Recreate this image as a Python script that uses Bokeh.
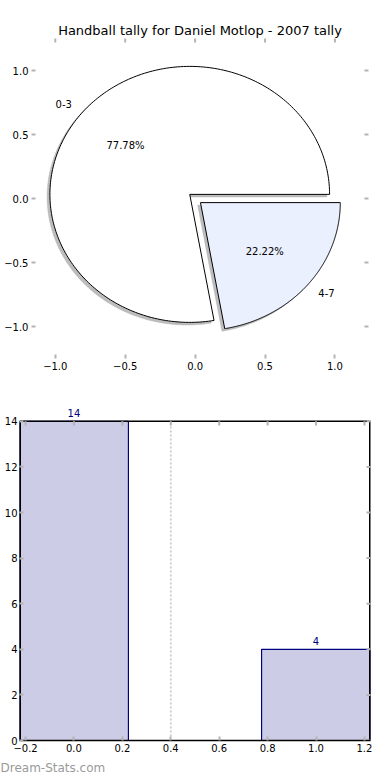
import numpy as np
from bokeh.plotting import figure
from bokeh.models import (Range1d, LinearAxis, FixedTicker, CustomJSTickFormatter,
                          ColumnDataSource, LabelSet, Title)
from bokeh.core.properties import value
from bokeh.embed import file_html
from bokeh.resources import INLINE

# ---------------- data ----------------
pie_title = "Handball tally for Daniel Motlop - 2007 tally"
pie_labels = ["0-3", "4-7"]
pie_values = [14, 4]
pie_colors = ["#FFFFFF", "#EAF0FD"]
pie_explode = [0.05, 0.05]
pie_ticks = [-1.0, -0.5, 0.0, 0.5, 1.0]
pie_xlim = (-1.17, 1.24)
pie_ylim = (-1.25, 1.25)

bar_x = [0, 1]
bar_values = [14, 4]
bar_width = 0.45
bar_xticks = [-0.2, 0.0, 0.2, 0.4, 0.6, 0.8, 1.0, 1.2]
bar_yticks = [0, 2, 4, 6, 8, 10, 12, 14]
bar_headroom = 1.0
divider_x = 0.4
watermark = "Dream-Stats.com"

FONT = "DejaVu Sans"
TICK_COLOR = "#b4b4b4"

fmt = CustomJSTickFormatter(code="return tick.toFixed(1).replace('-', '\u2212');")
fmt_int = CustomJSTickFormatter(code="return tick.toFixed(0);")


def style_axis(ax, ticks, formatter, line=None):
    ax.ticker = FixedTicker(ticks=ticks)
    ax.formatter = formatter
    ax.major_tick_in = 4
    ax.major_tick_out = 0
    ax.minor_tick_in = 0
    ax.minor_tick_out = 0
    ax.major_tick_line_color = TICK_COLOR
    ax.major_tick_line_width = 2
    ax.axis_line_color = line
    ax.major_label_text_font = FONT
    ax.major_label_text_font_size = "10px"
    ax.major_label_text_color = "#000000"
    ax.major_label_standoff = 3


# ---------------- pie ----------------
p1 = figure(width=390, height=378, output_backend="svg", toolbar_location=None,
            x_range=Range1d(*pie_xlim), y_range=Range1d(*pie_ylim),
            x_axis_type=None, y_axis_type=None,
            min_border_left=31, min_border_right=22, min_border_top=38, min_border_bottom=20)
p1.title.text = pie_title
p1.title.align = "center"
p1.title.text_font = FONT
p1.title.text_font_size = "13px"
p1.title.text_font_style = "normal"
p1.title.text_color = "#000000"
p1.title.standoff = 2
p1.outline_line_color = None
p1.background_fill_color = "#FFFFFF"
p1.xgrid.visible = False
p1.ygrid.visible = False

for loc in ("below", "left"):
    ax = LinearAxis()
    style_axis(ax, pie_ticks, fmt)
    p1.add_layout(ax, loc)

vals = np.array(pie_values, dtype=float)
fracs = vals / vals.sum()
ends = np.cumsum(fracs) * 360.0
starts = ends - fracs * 360.0

w_xs, w_ys, s_xs, s_ys = [], [], [], []
lab_x, lab_y, lab_align, pct_x, pct_y, pct_txt = [], [], [], [], [], []
for t1, t2, ex, fr in zip(starts, ends, pie_explode, fracs):
    mid = np.deg2rad((t1 + t2) / 2.0)
    cx, cy = ex * np.cos(mid), ex * np.sin(mid)
    th = np.deg2rad(np.linspace(t1, t2, 240))
    xs = np.concatenate([[cx], cx + np.cos(th), [cx]])
    ys = np.concatenate([[cy], cy + np.sin(th), [cy]])
    w_xs.append(list(xs)); w_ys.append(list(ys))
    s_xs.append(list(xs - 0.02)); s_ys.append(list(ys - 0.02))
    lx, ly = cx + 1.1 * np.cos(mid), cy + 1.1 * np.sin(mid)
    lab_x.append(lx); lab_y.append(ly)
    lab_align.append("right" if lx < 0 else "left")
    pct_x.append(cx + 0.6 * np.cos(mid)); pct_y.append(cy + 0.6 * np.sin(mid))
    pct_txt.append("%.2f%%" % (fr * 100))

p1.patches(s_xs, s_ys, fill_color="#9a9a9a", fill_alpha=0.65, line_color="#aaaaaa",
           line_alpha=0.4, line_width=1)
p1.patches(w_xs, w_ys, fill_color=pie_colors, line_color="#000000", line_width=1)

src_lab = ColumnDataSource(dict(x=lab_x, y=lab_y, t=pie_labels, a=lab_align))
p1.text("x", "y", text="t", text_align="a", text_baseline="middle", source=src_lab,
        text_font=value(FONT), text_font_size="10px", text_color="#000000")
src_pct = ColumnDataSource(dict(x=pct_x, y=pct_y, t=pct_txt))
p1.text("x", "y", text="t", text_align="center", text_baseline="middle", source=src_pct,
        text_font=value(FONT), text_font_size="10px", text_color="#000000")

# inward ticks on the top and right edges (half of each marker is clipped by the frame)
p1.scatter(x=pie_ticks, y=[pie_ylim[1]] * len(pie_ticks), marker="dash", angle=np.pi / 2,
           size=8, line_color=TICK_COLOR, line_width=2)
p1.scatter(x=[pie_xlim[1]] * len(pie_ticks), y=pie_ticks, marker="dash",
           size=8, line_color=TICK_COLOR, line_width=2)

# ---------------- bars ----------------
xmin = min(bar_x) - bar_width / 2
xmax = max(bar_x) + bar_width / 2
ytop = max(bar_values)

p2 = figure(width=390, height=402, output_backend="svg", toolbar_location=None,
            x_range=Range1d(xmin, xmax), y_range=Range1d(0, ytop + bar_headroom),
            x_axis_type=None, y_axis_type=None,
            min_border_left=19, min_border_right=20, min_border_top=20, min_border_bottom=40)
p2.outline_line_color = None
p2.xgrid.visible = False
p2.ygrid.visible = False

axb = LinearAxis()
style_axis(axb, bar_xticks, fmt, line="#000000")
axb.axis_line_width = 1.5
p2.add_layout(axb, "below")
axl = LinearAxis()
style_axis(axl, bar_yticks, fmt_int, line=None)
axl.major_label_standoff = 2
p2.add_layout(axl, "left")

bsrc = ColumnDataSource(dict(x=bar_x, top=bar_values, t=[str(v) for v in bar_values]))
p2.vbar(x="x", top="top", bottom=0, width=bar_width, source=bsrc,
        fill_color="#CCCCE6", line_color="#000080", line_width=1.2)
# dotted divider, from the baseline up to the top spine
p2.segment(x0=[divider_x], y0=[0], x1=[divider_x], y1=[ytop], line_color="#c4c4c4",
           line_width=1.5, line_dash="2 2")

# box spines: left/right sit on the frame edge (half clipped), top at the max value
p2.segment(x0=[xmin, xmax], y0=[0, 0], x1=[xmin, xmax], y1=[ytop, ytop],
           line_color="#000000", line_width=3)
p2.segment(x0=[xmin], y0=[ytop], x1=[xmax], y1=[ytop], line_color="#000000", line_width=1.5)
# inward ticks at top and right
tick_len = 0.18
p2.segment(x0=bar_xticks, y0=[ytop] * len(bar_xticks), x1=bar_xticks,
           y1=[ytop - tick_len] * len(bar_xticks), line_color=TICK_COLOR, line_width=2)
p2.scatter(x=[xmax] * len(bar_yticks), y=bar_yticks, marker="dash", size=8,
           line_color=TICK_COLOR, line_width=2)

p2.add_layout(LabelSet(x="x", y="top", text="t", source=bsrc, text_align="center",
                       text_baseline="bottom", y_offset=4, text_font=value(FONT),
                       text_font_size="10px", text_color="#000080"))
wm = Title(text=watermark, align="left", text_font=FONT, text_font_size="12px",
           text_font_style="normal", text_color="#9a9a9a", offset=-19, standoff=9)
p2.add_layout(wm, "below")

open("out.html", "w").write(file_html([p1, p2], INLINE))
